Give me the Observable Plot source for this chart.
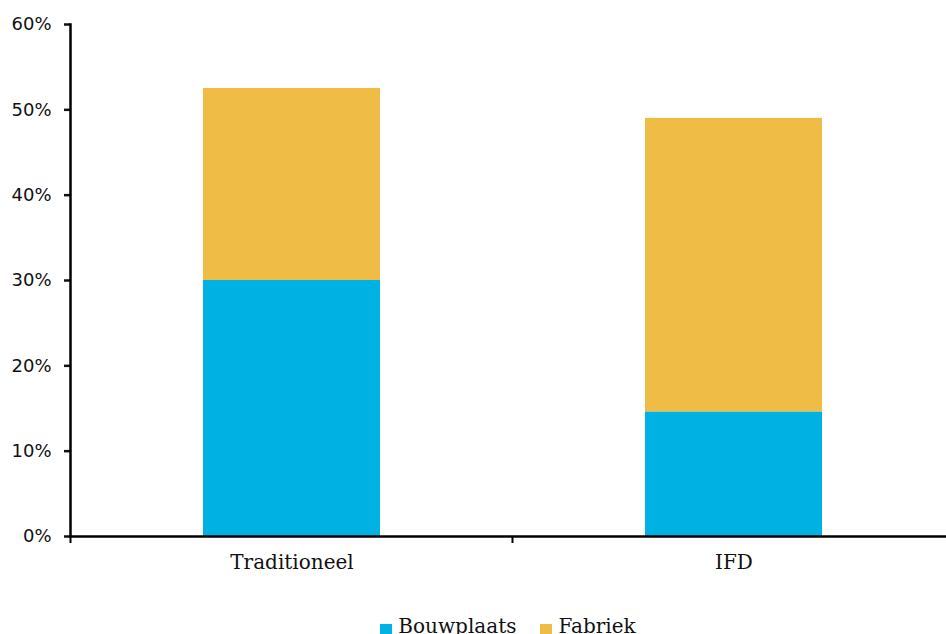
<!DOCTYPE html>
<html>
<head>
<meta charset="utf-8">
<script src="https://cdn.jsdelivr.net/npm/d3@7"></script>
<script src="https://cdn.jsdelivr.net/npm/@observablehq/plot@0.6"></script>
<style>
  html, body { margin: 0; padding: 0; background: #fff; }
  body { width: 946px; height: 634px; overflow: hidden; position: relative; }
  #chart svg { display: block; overflow: visible; }
  #legend {
    position: absolute; left: 70px; width: 876px; top: 614px;
    display: flex; justify-content: center; gap: 24px;
    font-family: "DejaVu Serif", serif; font-size: 20px; color: #111;
  }
  #legend .item { display: flex; align-items: center; gap: 6px; line-height: 24px; }
  #legend .sw { width: 12px; height: 12px; display: inline-block; margin-top: 7px; }
</style>
</head>
<body>
<div id="chart"></div>
<div id="legend"></div>
<script>
// Share of labour hours by location, per building method
const categories = ["Traditioneel", "IFD"];
const seriesNames = ["Bouwplaats", "Fabriek"];
const bouwplaats = [0.30, 0.146];
const fabriek = [0.225, 0.344];
const yTicks = [0, 0.1, 0.2, 0.3, 0.4, 0.5, 0.6];
const seriesColors = ["#00B1E4", "#EFBC45"];

const rows = [];
categories.forEach((c, i) => {
  rows.push({category: c, series: seriesNames[0], value: bouwplaats[i]});
  rows.push({category: c, series: seriesNames[1], value: fabriek[i]});
});

const W = 946, H = 580, axisY0 = 536;

const chart = Plot.plot({
  width: W,
  height: H,
  marginLeft: 70,
  marginRight: 0,
  marginTop: 24,
  marginBottom: H - axisY0,
  style: {background: "#fff", color: "#111"},
  x: {domain: categories, range: [70, 955], paddingInner: 0.6, paddingOuter: 0.3, axis: null},
  y: {domain: [0, 0.6], axis: null},
  color: {domain: seriesNames, range: seriesColors},
  marks: [
    Plot.barY(rows, Plot.stackY({x: "category", y: "value", fill: "series"})),
    Plot.axisY(yTicks, {
      label: null,
      tickSize: 6, tickPadding: 13, strokeWidth: 2.5,
      tickFormat: d => Math.round(d * 100) + "%",
      fontSize: 18, fontFamily: "DejaVu Sans", fill: "#111"
    }),
    Plot.axisX({
      label: null,
      tickSize: 0, tickPadding: 18,
      fontSize: 20, fontFamily: "DejaVu Serif", fill: "#111"
    }),
    Plot.frame({anchor: "left", stroke: "#000", strokeWidth: 2.5}),
    Plot.ruleY([0], {stroke: "#000", strokeWidth: 2.5})
  ]
});

document.getElementById("chart").appendChild(chart);

// Category boundary ticks below the baseline
const xs = chart.scale("x");
const ys = chart.scale("y");
const gap = (xs.step - xs.bandwidth) / 2;
const edges = categories.map(c => xs.apply(c) - gap);
edges.push(xs.apply(categories[categories.length - 1]) + xs.bandwidth + gap);
const y0 = ys.apply(0);
d3.select(chart).append("g")
  .selectAll("line").data(edges).join("line")
  .attr("x1", d => d).attr("x2", d => d)
  .attr("y1", y0).attr("y2", y0 + 7)
  .attr("stroke", "#000").attr("stroke-width", 2);

// Legend
const legend = d3.select("#legend");
seriesNames.forEach((s, i) => {
  const item = legend.append("div").attr("class", "item");
  item.append("span").attr("class", "sw").style("background", seriesColors[i]);
  item.append("span").text(s);
});
</script>
</body>
</html>
